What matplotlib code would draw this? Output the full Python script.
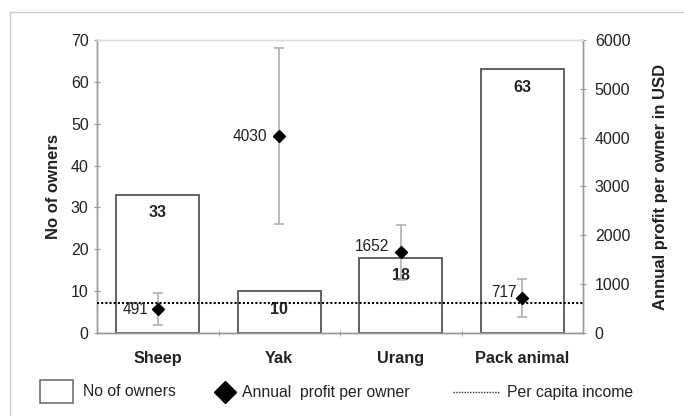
import numpy as np
import matplotlib.pyplot as plt
from matplotlib.lines import Line2D
from matplotlib.patches import Rectangle

plt.rcParams['font.family'] = ['Liberation Sans', 'DejaVu Sans']

categories = ['Sheep', 'Yak', 'Urang', 'Pack animal']
owners = [33, 10, 18, 63]
profit = [491, 4030, 1652, 717]
profit_err = [330, 1800, 560, 380]
per_capita = 620

txt = '#222222'
axc = '#999999'

fig = plt.figure(figsize=(6.84, 4.16), dpi=100)
ax = fig.add_axes([97 / 684, 83 / 416, 486 / 684, 293 / 416])
ax2 = ax.twinx()

x = np.arange(len(categories))
ax.bar(x, owners, width=0.68, facecolor='white', edgecolor='#555555', linewidth=1.3, zorder=2)
for xi, v in zip(x, owners):
    ax.annotate(str(v), (xi, v), xytext=(0, -18), textcoords='offset pixels',
                ha='center', va='center', fontsize=11.5, fontweight='bold', color=txt, zorder=5)

ax2.errorbar(x, profit, yerr=profit_err, fmt='none', ecolor='#aaaaaa', elinewidth=1.1,
             capsize=3.3, capthick=1.1, zorder=3)
ax2.plot(x, profit, linestyle='none', marker='D', markersize=6.5, color='black', zorder=4)
ax2.axhline(per_capita, color='black', linestyle=(0, (1, 1)), linewidth=1.5, zorder=4)

# label offsets in pixels from the marker
offs = [(-9, 0), (-12, 0), (-12, 6), (-6, 5)]
for xi, v, (dx, dy) in zip(x, profit, offs):
    ax2.annotate(str(v), (xi, v), xytext=(dx, dy), textcoords='offset pixels',
                 ha='right', va='center', fontsize=11.2, color=txt, zorder=5)

ax.set_xlim(-0.5, len(categories) - 0.5)
ax.set_ylim(0, 70)
ax2.set_ylim(0, 6000)
ax.set_yticks(np.arange(0, 71, 10))
ax2.set_yticks(np.arange(0, 6001, 1000))

ax.set_xticks(x)
ax.set_xticklabels(categories, fontsize=11.7, fontweight='bold', color=txt)
ax.tick_params(axis='x', length=0, pad=13)
ax.set_xticks(x[:-1] + 0.5, minor=True)
ax.tick_params(axis='x', which='minor', length=5, color=axc, direction='inout')

ax.tick_params(axis='y', labelsize=11.5, labelcolor=txt, color=axc, length=5, direction='inout')
ax2.tick_params(axis='y', labelsize=11.5, labelcolor=txt, color=axc, length=5, direction='inout', pad=6)

ax.set_ylabel('No of owners', fontsize=12, fontweight='bold', color=txt, labelpad=7)
ax2.set_ylabel('Annual profit per owner in USD', fontsize=12, fontweight='bold', color=txt, labelpad=16)

for a in (ax, ax2):
    for s in a.spines.values():
        s.set_color(axc)
        s.set_linewidth(1.0)
    a.spines['top'].set_color('#dddddd')

# outer frame
fig.add_artist(Line2D([10 / 684, 10 / 684], [0, 1 - 12 / 416], color='#cccccc', lw=1))
fig.add_artist(Line2D([10 / 684, 1], [1 - 12 / 416, 1 - 12 / 416], color='#cccccc', lw=1))

# legend
ly = 1 - 392 / 416
fig.add_artist(Rectangle((40 / 684, 1 - 403 / 416), 33 / 684, 23 / 416, facecolor='white',
                         edgecolor='#666666', lw=1.1))
fig.text(83 / 684, ly, 'No of owners', fontsize=11.3, color=txt, va='center')
fig.add_artist(Line2D([224.5 / 684], [ly], marker='D', markersize=11.5, color='black', linestyle='none'))
fig.text(242 / 684, ly, 'Annual  profit per owner', fontsize=11.3, color=txt, va='center')
fig.add_artist(Line2D([453 / 684, 499 / 684], [ly, ly], color='#333333', linestyle=(0, (1, 1)), lw=1))
fig.text(507 / 684, ly, 'Per capita income', fontsize=11.3, color=txt, va='center')

fig.savefig('out.png', dpi=100)
